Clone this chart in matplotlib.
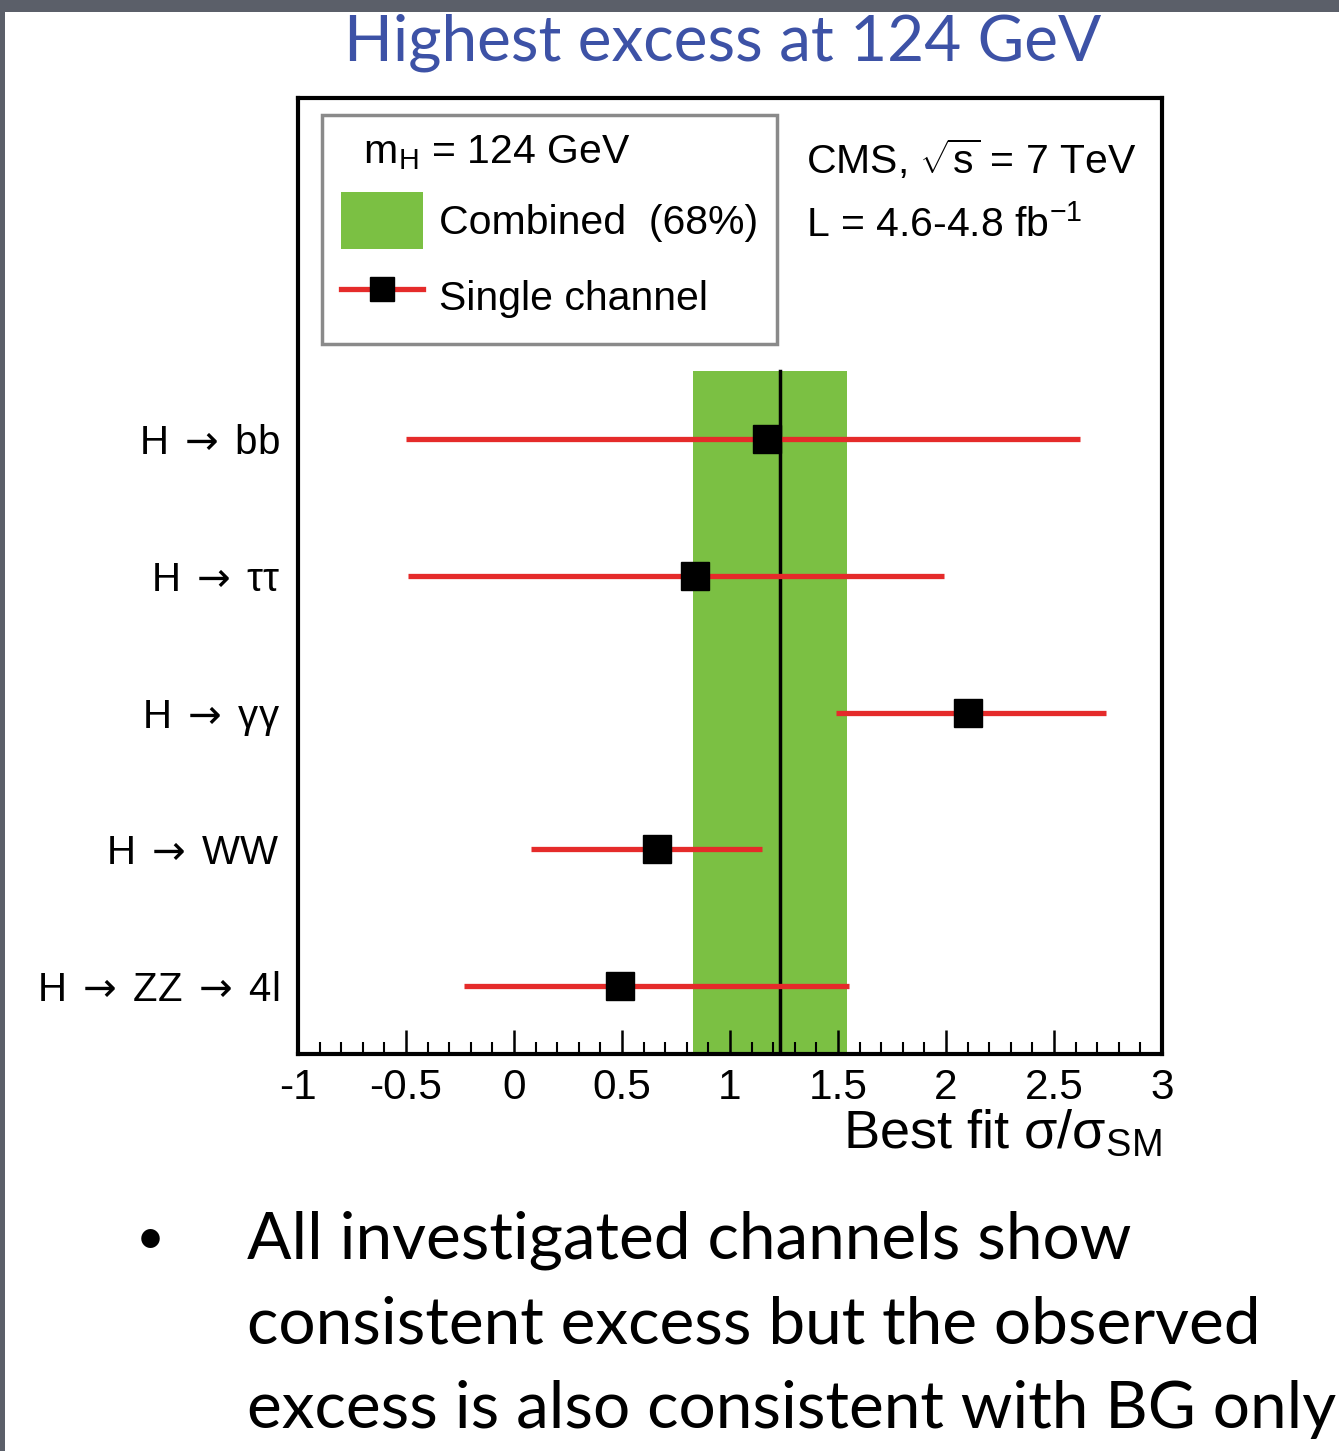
import matplotlib
matplotlib.use('Agg')
import matplotlib.pyplot as plt
from matplotlib.patches import Patch, Rectangle
from matplotlib.lines import Line2D
from matplotlib.ticker import MultipleLocator

# Per-channel best fit and 68% interval, mH = 124 GeV
arrow = r'$\:\rightarrow\:$'
channels = ['H' + arrow + 'ZZ' + arrow + '4l', 'H' + arrow + 'WW', 'H' + arrow + 'γγ',
            'H' + arrow + 'ττ', 'H' + arrow + 'bb']
mu_best = [0.49, 0.66, 2.10, 0.84, 1.17]
mu_low = [-0.23, 0.08, 1.49, -0.49, -0.50]
mu_high = [1.55, 1.15, 2.74, 1.99, 2.62]

# Combined result
mu_comb = 1.23
comb_low = 0.83
comb_high = 1.54

bullet_lines = ['All investigated channels show',
                'consistent excess but the observed',
                'excess is also consistent with BG only']

plt.rcParams['font.family'] = ['Liberation Sans', 'DejaVu Sans']
plt.rcParams['mathtext.fontset'] = 'custom'
plt.rcParams['mathtext.rm'] = 'Liberation Sans'
plt.rcParams['mathtext.it'] = 'Liberation Sans'

W, H = 1339, 1451
fig = plt.figure(figsize=(W / 100, H / 100), dpi=100)
fig.patch.set_facecolor('#5b5f69')
# white slide area
fig.patches.append(Rectangle((5 / W, 0), 1, 1 - 12 / H, transform=fig.transFigure,
                             facecolor='white', edgecolor='none', zorder=-5))

ax = fig.add_axes([298 / W, 1 - 1054 / H, 864 / W, 956 / H])
ax.set_facecolor('white')

ypos = [0.5 + i for i in range(len(channels))]

ax.fill_betweenx([0, 5], comb_low, comb_high, color='#7bc043', linewidth=0, zorder=1)
ax.plot([mu_comb, mu_comb], [0, 5], color='black', linewidth=2.5, zorder=2)

xerr = [[m - lo for m, lo in zip(mu_best, mu_low)],
        [hi - m for m, hi in zip(mu_best, mu_high)]]
ax.errorbar(mu_best, ypos, xerr=xerr, fmt='s', color='black', markersize=19.5,
            ecolor='#e52b2a', elinewidth=3.8, capsize=0, zorder=3)

ax.set_xlim(-1, 3)
ax.set_ylim(0, 7)
ticks = [-1, -0.5, 0, 0.5, 1, 1.5, 2, 2.5, 3]
ax.set_xticks(ticks)
ax.set_xticklabels(['%g' % t for t in ticks], fontsize=30.5)
ax.xaxis.set_minor_locator(MultipleLocator(0.1))
ax.tick_params(axis='x', which='major', direction='in', length=17, width=1.8, pad=10)
ax.tick_params(axis='x', which='minor', direction='in', length=8.5, width=1.5)
ax.set_yticks(ypos)
ax.set_yticklabels(channels, fontsize=29)
for lbl in ax.get_yticklabels():
    lbl.set_math_fontfamily('dejavusans')
ax.tick_params(axis='y', length=0, pad=13)
for s in ax.spines.values():
    s.set_linewidth(3)

ax.set_xlabel(r'Best fit σ/σ$_{\mathrm{SM}}$', fontsize=39, loc='right', labelpad=0)

handles = [Patch(facecolor='#7bc043', edgecolor='none'),
           Line2D([], [], color='#e52b2a', linewidth=3.8, marker='s',
                  markersize=17, markerfacecolor='black', markeredgecolor='black')]
leg = ax.legend(handles, ['Combined  (68%)', 'Single channel'],
                title='  m$_{\\mathrm{H}}$ = 124 GeV', title_fontsize=29.5, fontsize=29.5,
                loc='upper left', bbox_to_anchor=(0.028, 0.982), borderaxespad=0,
                alignment='left', handlelength=2.0, handleheight=1.76,
                handletextpad=0.4, borderpad=0.45, labelspacing=0.48,
                fancybox=False, edgecolor='#8a8a8a', framealpha=1)
leg.get_frame().set_linewidth(2.5)

ax.text(0.588, 0.935, r'CMS, $\sqrt{\mathrm{s}}$ = 7 TeV', transform=ax.transAxes,
        fontsize=29.5, va='center', ha='left')
ax.text(0.588, 0.867, r'L = 4.6-4.8 fb$^{\mathrm{-1}}$', transform=ax.transAxes,
        fontsize=29.5, va='center', ha='left')

fig.text(723 / W, 1 - 43 / H, 'Highest excess at 124 GeV', color='#3d52a6',
         fontsize=46, family=['Lato', 'DejaVu Sans'], ha='center', va='center')

fig.text(150 / W, 1 - 1240 / H, '•', fontsize=36, family=['Lato', 'DejaVu Sans'],
         ha='center', va='center')
for i, line in enumerate(bullet_lines):
    fig.text(247 / W, 1 - (1258 + 85 * i) / H, line, fontsize=47.3,
             family=['Lato', 'DejaVu Sans'], ha='left', va='baseline')

fig.savefig('out.png', dpi=100)
